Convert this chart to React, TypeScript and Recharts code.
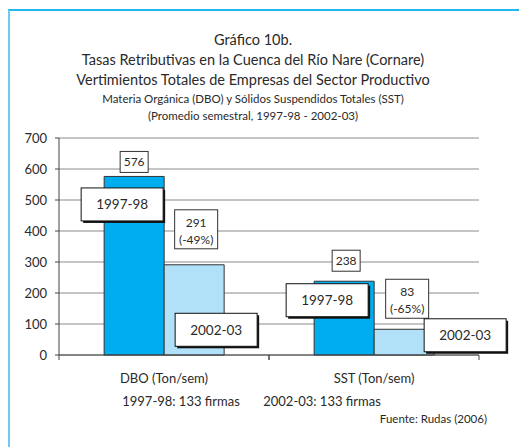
import React from 'react';
import { BarChart, Bar, XAxis, YAxis, CartesianGrid, LabelList } from 'recharts';

const categories = ['DBO (Ton/sem)', 'SST (Ton/sem)'];
const seriesNames = ['1997-98', '2002-03'];
const values9798 = [576, 238];
const values0203 = [291, 83];
const change0203 = ['(-49%)', '(-65%)'];
const yTicks = [0, 100, 200, 300, 400, 500, 600, 700];
const titleLines = [
  'Gráfico 10b.',
  'Tasas Retributivas en la Cuenca del Río Nare (Cornare)',
  'Vertimientos Totales de Empresas del Sector Productivo',
  'Materia Orgánica (DBO) y Sólidos Suspendidos Totales (SST)',
  '(Promedio semestral, 1997-98 - 2002-03)',
];
const firmsNotes = ['1997-98: 133 firmas', '2002-03: 133 firmas'];
const sourceNote = 'Fuente: Rudas (2006)';

const data = categories.map((cat, i) => ({
  cat,
  a: values9798[i],
  b: values0203[i],
  pct: change0203[i],
}));

const FONT = 'Lato, "Open Sans", sans-serif';
const INK = '#2a2a2a';

// label nudges relative to each bar (centre x, top y), in px
const NUDGE = {
  aValue: [{ dx: 0, dy: -4 }, { dx: 2, dy: -10 }],
  bValue: [{ dx: 2, dy: -16 }, { dx: 3, dy: -11 }],
  aName: [{ dx: -12, dy: 28 }, { dx: -17, dy: 19 }],
  bName: [{ dx: 22, dy: 65 }, { dx: 61, dy: 6 }],
};

const ValueBox = (props: any) => {
  const { x, y, width, value, index } = props;
  const n = NUDGE.aValue[index];
  const cx = x + width / 2 + n.dx;
  const bottom = y + n.dy;
  const w = 28;
  const h = 21;
  return (
    <g>
      <rect x={cx - w / 2} y={bottom - h} width={w} height={h} fill="#fff" stroke="#333" strokeWidth={1} />
      <text x={cx} y={bottom - 6} textAnchor="middle" fontSize={12} fontFamily={FONT} fill={INK}>
        {value}
      </text>
    </g>
  );
};

const ValuePctBox = (props: any) => {
  const { x, y, width, value, index } = props;
  const n = NUDGE.bValue[index];
  const cx = x + width / 2 + n.dx;
  const bottom = y + n.dy;
  const w = 43;
  const h = 39;
  return (
    <g>
      <rect x={cx - w / 2} y={bottom - h} width={w} height={h} fill="#fff" stroke="#333" strokeWidth={1} />
      <text x={cx} y={bottom - 22} textAnchor="middle" fontSize={12} fontFamily={FONT} fill={INK}>
        {value}
      </text>
      <text x={cx} y={bottom - 5} textAnchor="middle" fontSize={12} fontFamily={FONT} fill={INK}>
        {change0203[index]}
      </text>
    </g>
  );
};

const makeNameBox = (key: 'aName' | 'bName', name: string) => (props: any) => {
  const { x, y, width, index } = props;
  const n = NUDGE[key][index];
  const cx = x + width / 2 + n.dx;
  const cy = y + n.dy;
  const w = 82;
  const h = 33;
  return (
    <g>
      <rect x={cx - w / 2 + 2} y={cy - h / 2 + 2} width={w} height={h} fill="#111" />
      <rect x={cx - w / 2} y={cy - h / 2} width={w} height={h} fill="#fff" stroke="#111" strokeWidth={1} />
      <text x={cx} y={cy + 5} textAnchor="middle" fontSize={13.5} fontFamily={FONT} fill={INK}>
        {name}
      </text>
    </g>
  );
};

const CategoryTick = (props: any) => {
  const { x, y, payload } = props;
  const off = payload.offset ?? 105;
  return (
    <g>
      <line x1={x - off} y1={y} x2={x - off} y2={y + 5} stroke="#444" />
      <line x1={x + off} y1={y} x2={x + off} y2={y + 5} stroke="#444" />
      <text x={x} y={y + 28} textAnchor="middle" fontSize={13} fontFamily={FONT} fill={INK}>
        {payload.value}
      </text>
    </g>
  );
};

export default function App() {
  return (
    <div style={{ position: 'absolute', left: 0, top: 0, width: 519, height: 447, overflow: 'hidden', background: '#fff' }}>
      <div
        style={{
          position: 'absolute',
          left: 8,
          top: 9,
          width: 700,
          height: 700,
          borderTop: '2px solid #1DB9EE',
          borderLeft: '2px solid #6CCDF0',
        }}
      />
      <svg width={519} height={447} style={{ position: 'absolute', left: 0, top: 0 }}>
        {titleLines.map((t, i) => (
          <text
            key={t}
            x={253}
            y={[45, 65, 85, 103, 120][i]}
            textAnchor="middle"
            fontSize={i < 3 ? 14.5 : 11.5}
            fontFamily={FONT}
            fill={INK}
          >
            {t}
          </text>
        ))}
        <text x={181} y={406} textAnchor="middle" fontSize={13} fontFamily={FONT} fill={INK}>
          {firmsNotes[0]}
        </text>
        <text x={322} y={406} textAnchor="middle" fontSize={13} fontFamily={FONT} fill={INK}>
          {firmsNotes[1]}
        </text>
        <text x={487} y={423} textAnchor="end" fontSize={11.5} fontFamily={FONT} fill={INK}>
          {sourceNote}
        </text>
      </svg>
      <div style={{ position: 'absolute', left: 0, top: 0 }}>
        <BarChart
          width={519}
          height={447}
          data={data}
          margin={{ top: 138, right: 40, bottom: 52, left: 9 }}
          barCategoryGap="21.5%"
          barGap={0}
        >
          <CartesianGrid yAxisId="left" vertical={false} stroke="#8a8a8a" strokeWidth={1} />
          <XAxis
            dataKey="cat"
            height={40}
            axisLine={{ stroke: '#444' }}
            tickLine={false}
            tickSize={0}
            tickMargin={0}
            tick={<CategoryTick />}
            interval={0}
          />
          <YAxis
            yAxisId="left"
            width={50}
            domain={[0, 700]}
            ticks={yTicks}
            interval={0}
            axisLine={{ stroke: '#444' }}
            tickLine={{ stroke: '#444' }}
            tickSize={4}
            tickMargin={8}
            tick={{ fontSize: 13, fontFamily: FONT, fill: INK }}
          />
          <YAxis
            yAxisId="right"
            orientation="right"
            width={0}
            domain={[0, 700]}
            tick={false}
            tickLine={false}
            axisLine={{ stroke: '#666' }}
          />
          <Bar yAxisId="left" dataKey="a" name={seriesNames[0]} fill="#00AEEF" stroke="#333" strokeWidth={1} isAnimationActive={false}>
            <LabelList dataKey="a" content={<ValueBox />} />
            <LabelList dataKey="a" content={makeNameBox('aName', seriesNames[0])} />
          </Bar>
          <Bar yAxisId="left" dataKey="b" name={seriesNames[1]} fill="#B1E1F8" stroke="#333" strokeWidth={1} isAnimationActive={false}>
            <LabelList dataKey="b" content={<ValuePctBox />} />
            <LabelList dataKey="b" content={makeNameBox('bName', seriesNames[1])} />
          </Bar>
        </BarChart>
      </div>
    </div>
  );
}
